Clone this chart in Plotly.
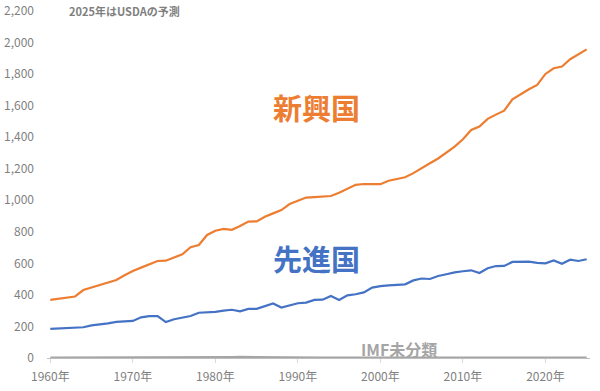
import plotly.graph_objects as go

years = list(range(1960, 2026))

emerging = [368, 375, 382, 390, 431, 448, 462, 478, 495, 525,
            552, 573, 594, 615, 617, 636, 658, 702, 716, 780,
            807, 818, 813, 837, 865, 866, 896, 917, 938, 976,
            998, 1017, 1020, 1023, 1027, 1048, 1075, 1098, 1103, 1101,
            1102, 1124, 1137, 1146, 1172, 1205, 1235, 1265, 1302, 1340,
            1387, 1446, 1467, 1516, 1543, 1568, 1640, 1674, 1704, 1731,
            1801, 1837, 1848, 1894, 1928, 1957]

advanced = [185, 188, 192, 193, 195, 207, 212, 220, 229, 233,
            235, 258, 265, 266, 228, 246, 256, 266, 287, 290,
            292, 300, 306, 296, 311, 312, 330, 346, 320, 335,
            347, 351, 368, 370, 393, 368, 397, 404, 416, 446,
            456, 460, 463, 467, 492, 504, 501, 520, 531, 543,
            550, 556, 539, 569, 583, 584, 609, 610, 611, 603,
            600, 619, 598, 623, 615, 626]

unclassified = [2, 2, 2, 2, 2, 2, 2, 2, 2, 2,
                2, 2, 2, 2, 2, 2, 3, 3, 3, 4,
                4, 5, 6, 7, 7, 7, 7, 7, 7, 6,
                5, 4, 3, 3, 2, 2, 2, 2, 2, 2,
                2, 2, 2, 2, 2, 2, 2, 2, 2, 2,
                2, 2, 2, 3, 4, 5, 5, 4, 3, 2,
                2, 2, 2, 2, 2, 2]

tick_years = [1960, 1970, 1980, 1990, 2000, 2010, 2020]
tick_labels = [f"{y}年" for y in tick_years]
y_ticks = list(range(0, 2201, 200))

ORANGE = "#ED7D31"
BLUE = "#4472C4"
GRAY = "#A5A5A5"
FONT = "Noto Sans CJK JP"

fig = go.Figure()
fig.add_trace(go.Scatter(x=years, y=unclassified, mode="lines",
                         line=dict(color=GRAY, width=2.2), name="IMF未分類"))
fig.add_trace(go.Scatter(x=years, y=advanced, mode="lines",
                         line=dict(color=BLUE, width=2.2), name="先進国"))
fig.add_trace(go.Scatter(x=years, y=emerging, mode="lines",
                         line=dict(color=ORANGE, width=2.2), name="新興国"))

fig.update_layout(
    width=600, height=391,
    margin=dict(l=47, r=10, t=11, b=33),
    paper_bgcolor="white", plot_bgcolor="white",
    showlegend=False,
    font=dict(family=FONT, size=12, color="#7F7F7F"),
)
fig.update_xaxes(
    range=[1959.6, 2025.4],
    tickmode="array", tickvals=tick_years, ticktext=tick_labels,
    showgrid=False, zeroline=False, automargin=False,
    showline=True, linecolor="#BFBFBF", linewidth=1,
    ticks="outside", ticklen=4, tickcolor="#D9D9D9",
    ticklabelstandoff=4,
    tickfont=dict(family=FONT, size=12, color="#7F7F7F"),
)
fig.update_yaxes(
    range=[0, 2200],
    tickmode="array", tickvals=y_ticks,
    tickformat=",d",
    showgrid=False, zeroline=False, showline=False, automargin=False,
    ticklabelstandoff=12,
    tickfont=dict(family=FONT, size=12, color="#7F7F7F"),
)

fig.add_annotation(text="<b>2025年はUSDAの予測</b>", xref="paper", yref="paper",
                   x=(67 - 47) / 543, y=1.0, xanchor="left", yanchor="middle",
                   showarrow=False, font=dict(family=FONT, size=11, color="#7F7F7F"))
fig.add_annotation(text="<b>新興国</b>", x=1992.2, y=1592, xref="x", yref="y",
                   showarrow=False, font=dict(family=FONT, size=29, color=ORANGE))
fig.add_annotation(text="<b>先進国</b>", x=1992.2, y=634, xref="x", yref="y",
                   showarrow=False, font=dict(family=FONT, size=29, color=BLUE))
fig.add_annotation(text="<b>IMF未分類</b>", x=2002.3, y=57, xref="x", yref="y",
                   showarrow=False, font=dict(family=FONT, size=16, color=GRAY))

fig.write_html("out.html",
               config={"displayModeBar": False},
               post_script="document.body.style.margin='0';document.body.style.overflow='hidden';")
